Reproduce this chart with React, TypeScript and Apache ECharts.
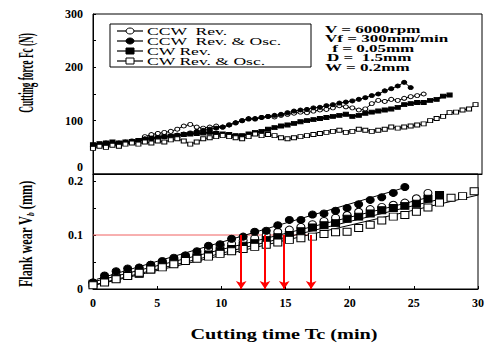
import React, { useEffect, useRef } from "react";
import * as echarts from "echarts";

// ---- Cutting force (top panel) ----
const tTop = [0, 0.5, 1, 1.5, 2, 2.5, 3, 3.5, 4, 4.5, 5, 5.5, 6, 6.5, 7, 7.5, 8, 8.5, 9, 9.5, 10, 10.5, 11, 11.5, 12, 12.5, 13, 13.5, 14, 14.5, 15, 15.5, 16, 16.5, 17, 17.5, 18, 18.5, 19, 19.5, 20, 20.5, 21, 21.5, 22, 22.5, 23, 23.5, 24, 24.5, 25, 25.5, 26, 26.5, 27, 27.5, 28, 28.5, 29, 29.5];
const fcCcwRev = [52, 54, 53, 56, 55, 58, 60, 63, 70, 74, 76, 78, 80, 84, 90, 93, 88, 86, 88, 90, 88, 92, 96, 100, 104, 103, 106, 108, 107, 110, 112, 114, 116, 115, 118, 120, 121, 124, 128, 126, 124, 120, 122, 132, 138, 136, 140, 138, 142, 145, 147, 150];
const fcCcwOsc = [50, 55, 58, 56, 58, 60, 62, 63, 66, 67, 68, 70, 71, 73, 75, 77, 80, 82, 84, 86, 88, 92, 96, 100, 103, 104, 106, 108, 110, 112, 115, 118, 120, 121, 124, 125, 128, 130, 133, 135, 137, 140, 143, 147, 150, 156, 160, 165, 172, 162];
const fcCwRev = [55, 57, 58, 60, 58, 60, 61, 63, 65, 67, 68, 70, 71, 72, 74, 75, 76, 77, 78, 76, 75, 74, 72, 72, 75, 78, 80, 84, 87, 90, 92, 95, 98, 100, 102, 104, 106, 108, 110, 112, 108, 110, 114, 116, 118, 120, 122, 125, 130, 132, 134, 134, 138, 140, 146, 148];
const fcCwOsc = [48, 52, 50, 54, 52, 56, 58, 56, 60, 58, 62, 60, 64, 66, 62, 56, 60, 66, 68, 70, 72, 70, 68, 66, 70, 75, 72, 74, 72, 68, 66, 68, 70, 72, 74, 76, 78, 80, 82, 78, 80, 84, 82, 80, 82, 84, 88, 86, 88, 90, 92, 94, 100, 104, 108, 115, 116, 120, 122, 130];

// ---- Flank wear (bottom panel) ----
const tWear = [0, 0.9, 1.8, 2.7, 3.6, 4.5, 5.4, 6.3, 7.2, 8.1, 9, 9.9, 10.8, 11.7, 12.6, 13.5, 14.4, 15.3, 16.2, 17.1, 18, 18.9, 19.8, 20.7, 21.6, 22.5, 23.4, 24.3, 25.2, 26.1, 27, 27.9, 28.8, 29.7];
const vbCcwRev = [0.012, 0.020, 0.026, 0.031, 0.036, 0.045, 0.050, 0.056, 0.062, 0.066, 0.074, 0.080, 0.084, 0.090, 0.094, 0.100, 0.106, 0.110, 0.115, 0.120, 0.126, 0.132, 0.137, 0.143, 0.148, 0.152, 0.156, 0.160, 0.168, 0.178];
const vbCcwOsc = [0.012, 0.025, 0.033, 0.038, 0.040, 0.045, 0.052, 0.058, 0.062, 0.070, 0.080, 0.083, 0.093, 0.097, 0.106, 0.108, 0.118, 0.128, 0.128, 0.138, 0.140, 0.145, 0.150, 0.157, 0.165, 0.170, 0.178, 0.189];
const vbCwRev = [0.010, 0.015, 0.020, 0.025, 0.028, 0.036, 0.043, 0.048, 0.054, 0.058, 0.064, 0.070, 0.074, 0.080, 0.085, 0.091, 0.096, 0.100, 0.107, 0.114, 0.118, 0.122, 0.130, 0.134, 0.140, 0.146, 0.150, 0.154, 0.158, 0.167, 0.174];
const vbCwOsc = [0.007, 0.012, 0.018, 0.024, 0.030, 0.036, 0.040, 0.046, 0.052, 0.056, 0.060, 0.065, 0.070, 0.074, 0.078, 0.082, 0.086, 0.091, 0.094, 0.097, 0.102, 0.105, 0.106, 0.113, 0.119, 0.127, 0.134, 0.137, 0.143, 0.151, 0.160, 0.169, 0.172, 0.181];

// linear fit lines [start, end]
const fitCcwOsc = [[0.3, 0.018], [24.6, 0.19]];
const fitCcwRev = [[0.3, 0.015], [26.2, 0.17]];
const fitCwRev = [[0.3, 0.009], [27.3, 0.168]];
const fitCwOsc = [[0.3, 0.008], [30, 0.174]];

const wearCriterion = 0.1;
const toolLifeTimes = [11.55, 13.4, 14.9, 17.0];

const seriesNames = ["CCW  Rev.", "CCW  Rev. & Osc.", "CW Rev.", "CW Rev. & Osc."];
const paramLines = ["V = 6000rpm", "Vf = 300mm/min", " f = 0.05mm", "D =  1.5mm", "W = 0.2mm"];

const SERIF = "'Liberation Serif', 'DejaVu Serif', serif";

const zip = (t: number[], v: number[]) => v.map((y, i) => [t[i], y]);

const styles = [
  { symbol: "circle", fill: "#fff" },
  { symbol: "circle", fill: "#000" },
  { symbol: "rect", fill: "#000" },
  { symbol: "rect", fill: "#fff" },
];

export default function App() {
  const ref = useRef<HTMLDivElement>(null);
  useEffect(() => {
    if (!ref.current) return;
    const chart = echarts.init(ref.current, null, { renderer: "svg" });

    const topData = [fcCcwRev, fcCcwOsc, fcCwRev, fcCwOsc];
    const wearData = [vbCcwRev, vbCcwOsc, vbCwRev, vbCwOsc];
    const fits = [fitCcwRev, fitCcwOsc, fitCwRev, fitCwOsc];

    const series: any[] = [];
    topData.forEach((d, i) => {
      series.push({
        type: "line",
        xAxisIndex: 0,
        yAxisIndex: 0,
        data: zip(tTop, d),
        symbol: styles[i].symbol,
        symbolSize: [5, 4],
        itemStyle: { color: styles[i].fill, borderColor: "#000", borderWidth: 1 },
        lineStyle: { color: "#000", width: i === 2 ? 2 : 1 },
        z: 3,
      });
    });
    // red wear-criterion lines
    series.push({
      type: "line",
      xAxisIndex: 1,
      yAxisIndex: 1,
      data: [[0, wearCriterion], [toolLifeTimes[3], wearCriterion]],
      symbol: "none",
      lineStyle: { color: "#f06060", width: 1 },
      z: 2,
      markLine: {
        silent: true,
        symbol: ["none", "arrow"],
        symbolSize: 8,
        label: { show: false },
        lineStyle: { color: "#ff0000", width: 2, type: "solid" },
        data: toolLifeTimes.map((t) => [{ coord: [t, wearCriterion] }, { coord: [t, 0] }]),
      },
    });
    fits.forEach((f) => {
      series.push({
        type: "line",
        xAxisIndex: 1,
        yAxisIndex: 1,
        data: f,
        symbol: "none",
        lineStyle: { color: "#000", width: 1 },
        z: 3,
      });
    });
    wearData.forEach((d, i) => {
      series.push({
        type: "scatter",
        xAxisIndex: 1,
        yAxisIndex: 1,
        data: zip(tWear, d),
        symbol: styles[i].symbol,
        symbolSize: [8, 7],
        itemStyle: { color: styles[i].fill, borderColor: "#000", borderWidth: 1, opacity: 1 },
        z: 4,
      });
    });

    const labelStyle = { fontFamily: SERIF, fontWeight: "bold", fontSize: 12, color: "#000" };

    // legend graphic
    const legendGraphics: any[] = [
      { type: "rect", shape: { x: 110, y: 24, width: 201, height: 43 }, style: { fill: "#fff", stroke: "#000", lineWidth: 1 }, z: 10 },
    ];
    seriesNames.forEach((name, i) => {
      const cy = 31 + i * 10;
      legendGraphics.push({ type: "line", shape: { x1: 117, y1: cy, x2: 143, y2: cy }, style: { stroke: "#000", lineWidth: 1.2 }, z: 11 });
      if (styles[i].symbol === "circle") {
        legendGraphics.push({ type: "ellipse", shape: { cx: 130, cy, rx: 4, ry: 3 }, style: { fill: styles[i].fill, stroke: "#000", lineWidth: 1 }, z: 12 });
      } else {
        legendGraphics.push({ type: "rect", shape: { x: 126, y: cy - 3, width: 8, height: 6 }, style: { fill: styles[i].fill, stroke: "#000", lineWidth: 1 }, z: 12 });
      }
      legendGraphics.push({
        type: "text", x: 147, y: cy + 0.5, scaleX: 1.6, z: 12,
        style: { text: name, fontFamily: SERIF, fontSize: 11, fill: "#000", align: "left", verticalAlign: "middle" },
      });
    });
    const paramX = [325, 325, 328, 327, 325];
    const paramY = [29, 38.5, 48, 57.5, 67];
    paramLines.forEach((p, i) => {
      legendGraphics.push({
        type: "text", x: paramX[i], y: paramY[i], scaleX: 1.55, z: 12,
        style: { text: p, fontFamily: SERIF, fontSize: 11, fontWeight: "bold", fill: "#000", align: "left", verticalAlign: "middle" },
      });
    });

    chart.setOption({
      animation: false,
      backgroundColor: "#fff",
      grid: [
        { left: 93, top: 14, width: 389, height: 160, show: true, borderColor: "#000", borderWidth: 1, backgroundColor: "transparent" },
        { left: 93, top: 174, width: 389, height: 115, show: true, borderColor: "#000", borderWidth: 1, backgroundColor: "transparent" },
      ],
      xAxis: [
        {
          type: "value", gridIndex: 0, min: 0, max: 30, interval: 5,
          axisLine: { show: true, lineStyle: { color: "#000" } },
          axisTick: { show: false }, axisLabel: { show: false }, splitLine: { show: false },
        },
        {
          type: "value", gridIndex: 1, min: 0, max: 30, interval: 5,
          axisLine: { show: true, lineStyle: { color: "#000" } },
          axisTick: { show: true, inside: true, length: 3, lineStyle: { color: "#000" } },
          axisLabel: { ...labelStyle, margin: 8 },
          splitLine: { show: false },
        },
      ],
      yAxis: [
        {
          type: "value", gridIndex: 0, min: 0, max: 300, interval: 50,
          axisLine: { show: true, lineStyle: { color: "#000" } },
          axisTick: { show: true, inside: true, length: 3, lineStyle: { color: "#000" } },
          axisLabel: {
            ...labelStyle, margin: 10,
            formatter: (v: number) => {
              const r = Math.round(v);
              if (r === 0) return "{z|0}";
              return r % 100 === 0 ? String(r) : "";
            },
            rich: { z: { ...labelStyle, padding: [0, 0, 15, 0] } },
          },
          splitLine: { show: false },
        },
        {
          type: "value", gridIndex: 1, min: 0, max: 0.213, interval: 0.05,
          axisLine: { show: true, lineStyle: { color: "#000" } },
          axisTick: { show: true, inside: true, length: 3, lineStyle: { color: "#000" } },
          axisLabel: {
            ...labelStyle, margin: 10,
            formatter: (v: number) => {
              if (Math.abs(v) < 1e-9) return "0";
              if (Math.abs(v - 0.1) < 1e-6) return "0.1";
              if (Math.abs(v - 0.2) < 1e-6) return "0.2";
              return "";
            },
          },
          splitLine: { show: false },
        },
      ],
      series,
      graphic: [
        ...legendGraphics,
        {
          type: "text", x: 26, y: 73, rotation: Math.PI / 2, scaleX: 0.42, z: 12,
          style: { text: "Cutting force Fc (N)", fontFamily: SERIF, fontSize: 22, fontWeight: "bold", fill: "#000", align: "center", verticalAlign: "middle" },
        },
        {
          type: "text", x: 26, y: 234, rotation: Math.PI / 2, scaleX: 0.68, z: 12,
          style: {
            text: "Flank wear V{sub|b} (mm)",
            fontFamily: SERIF, fontSize: 18, fontWeight: "bold", fill: "#000", align: "center", verticalAlign: "middle",
            rich: { sub: { fontFamily: SERIF, fontSize: 11, fontStyle: "italic", fontWeight: "bold", fill: "#000", verticalAlign: "bottom", padding: [8, 0, 0, 0] } },
          },
        },
        {
          type: "text", x: 284, y: 334, scaleX: 1.35, z: 12,
          style: { text: "Cutting time Tc (min)", fontFamily: SERIF, fontSize: 15, fontWeight: "bold", fill: "#000", align: "center", verticalAlign: "middle" },
        },
      ],
    });
    return () => chart.dispose();
  }, []);
  return <div ref={ref} style={{ position: "fixed", left: 0, top: 0, width: 487, height: 343 }} />;
}
